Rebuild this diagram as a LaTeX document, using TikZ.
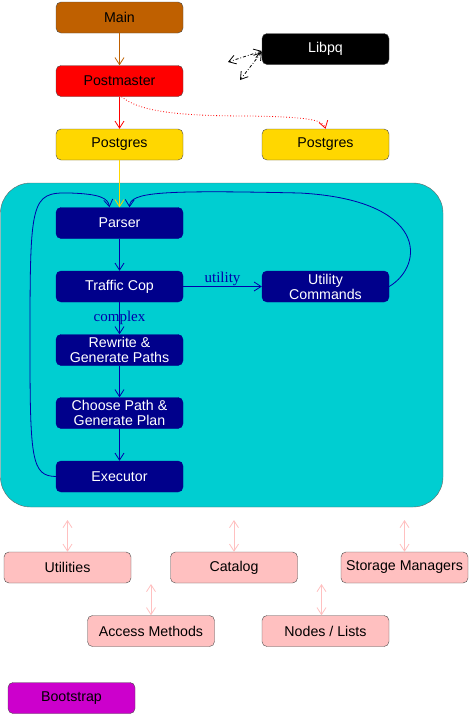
\documentclass[tikz,border=0pt]{standalone}
\usepackage{fontspec}
\setmainfont{Liberation Sans}
\newfontfamily\edgefont{Liberation Serif}
\usetikzlibrary{arrows.meta}
\definecolor{mainbrown}{RGB}{191,96,0}
\definecolor{pgyellow}{RGB}{255,215,0}
\definecolor{backend}{RGB}{0,206,209}
\definecolor{stage}{RGB}{0,0,139}
\definecolor{stageline}{RGB}{0,0,170}
\definecolor{support}{RGB}{255,192,192}
\definecolor{boot}{RGB}{204,0,204}

\begin{document}
\begin{tikzpicture}[x=1pt, y=-1pt,
    box/.style={draw=black!70, rounded corners=5pt, minimum width=127pt, minimum height=31pt,
        inner sep=1pt, align=center, font=\fontsize{14.2}{15}\selectfont},
    stagebox/.style={box, fill=stage, draw=stage, text=white},
    supbox/.style={box, fill=support},
    edgelabel/.style={font=\edgefont\fontsize{15}{16}\selectfont, text=stageline, inner sep=1pt},
    flow/.style={line width=0.8pt, -{Straight Barb[length=7pt,width=9pt]}},
    link/.style={line width=0.8pt, {Straight Barb[length=7pt,width=9pt]}-{Straight Barb[length=7pt,width=9pt]}, support}]
    \useasboundingbox (0,0) rectangle (470,716);

    % Backend area
    \draw[fill=backend, draw=black!60, rounded corners=30pt] (0.5,183) rectangle (443,507);

    % Startup chain
    \node[box, fill=mainbrown] (main) at (119.5,17.5) {Main};
    \node[box, fill=red] (pm) at (119.5,81) {Postmaster};
    \node[box, fill=pgyellow] (pg) at (119.5,144.5) {Postgres};
    \node[box, fill=pgyellow] (pgb) at (325.5,144.5) {Postgres};
    \node[box, fill=black, text=white] (libpq) at (325.5,49) {Libpq};

    % Query stages
    \node[stagebox] (parser) at (119.5,223) {Parser};
    \node[stagebox] (tcop) at (119.5,286.5) {Traffic Cop};
    \node[stagebox] (rewrite) at (119.5,350) {Rewrite \&\\Generate Paths};
    \node[stagebox] (plan) at (119.5,413) {Choose Path \&\\Generate Plan};
    \node[stagebox] (exec) at (119.5,476.5) {Executor};
    \node[stagebox] (util) at (325.5,286.5) {Utility\\Commands};

    % Support modules
    \node[supbox] (utils) at (67.5,567.5) {Utilities};
    \node[supbox] (catalog) at (234,567.5) {Catalog};
    \node[supbox] (storage) at (404.5,567.5) {Storage Managers};
    \node[supbox] (access) at (151,631) {Access Methods};
    \node[supbox] (nodes) at (325.5,631) {Nodes / Lists};
    \node[box, fill=boot] (boot) at (71.5,698) {Bootstrap};

    % Startup arrows
    \draw[flow, mainbrown] (main) -- (pm);
    \draw[flow, red] (pm) -- (pg);
    \draw[flow, red, dotted, thick] ([xshift=2pt]pm.south) .. controls (140,112) and (180,116) .. (250,116)
        .. controls (310,117) and (323,120) .. (pgb.north);
    \draw[flow, pgyellow] (pg) -- (parser);

    % Client connections
    \coordinate (cla) at (228,62);
    \coordinate (clb) at (240,80);
    \draw[link, black, dash dot] ([yshift=-2pt]libpq.west) -- (cla);
    \draw[link, black, dash dot] ([yshift=-3pt]libpq.west) -- (clb);

    % Stage arrows
    \draw[flow, stageline] (parser) -- (tcop);
    \draw[flow, stageline] (tcop) -- node[edgelabel] {complex} (rewrite);
    \draw[flow, stageline] (rewrite) -- (plan);
    \draw[flow, stageline] (plan) -- (exec);
    \draw[flow, stageline] (tcop) -- node[edgelabel, above=-1pt] {utility} (util);
    \draw[flow, stageline] (util.east) .. controls (425,265) and (428,200) .. (300,193)
        .. controls (160,190) and (130,192) .. ([xshift=10pt]parser.north);
    \draw[flow, stageline] (exec.west) .. controls (32,476) and (30,460) .. (30,350)
        .. controls (30,200) and (30,192) .. (70,193) .. controls (100,194) and (108,198) .. ([xshift=-10pt]parser.north);

    % Support links
    \coordinate (backbase) at (0,520);
    \coordinate (midbase) at (0,584);
    \draw[link] (utils.north |- backbase) -- (utils.north);
    \draw[link] (catalog.north |- backbase) -- (catalog.north);
    \draw[link] (storage.north |- backbase) -- (storage.north);
    \draw[link] (access.north |- midbase) -- (access.north);
    \draw[link] ([xshift=-4pt]nodes.north |- midbase) -- ([xshift=-4pt]nodes.north);
\end{tikzpicture}
\end{document}
